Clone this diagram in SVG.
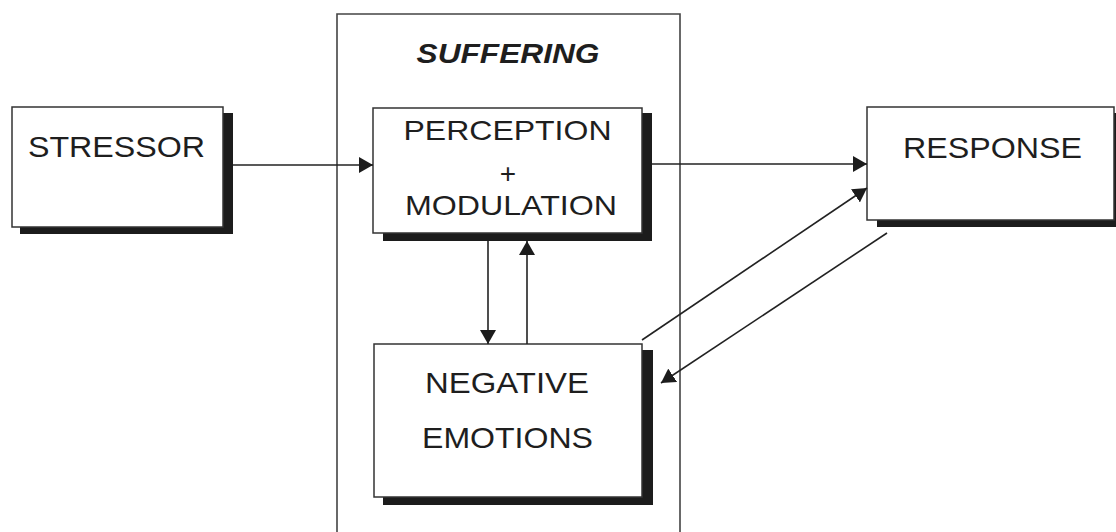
<svg xmlns="http://www.w3.org/2000/svg" width="1116" height="532" viewBox="0 0 1116 532">
<style>
.box{fill:#fff;stroke:#333;stroke-width:1.5}
.shadow{fill:#1c1c1c}
.lbl{font-family:"Liberation Sans",Arial,sans-serif;font-size:30px;fill:#1e1e1e;text-anchor:middle}
.sm{font-size:28px}
.title{font-family:"Liberation Sans",Arial,sans-serif;font-size:28px;font-weight:bold;font-style:italic;fill:#1e1e1e;text-anchor:middle}
.conn{stroke:#222;stroke-width:1.6;fill:none}
.frame{stroke:#444;stroke-width:1.6;fill:none}
</style>
<defs>
<marker id="arr" markerUnits="userSpaceOnUse" markerWidth="15" markerHeight="16" refX="14" refY="8" orient="auto">
<path d="M0,0 L14,8 L0,16 z" fill="#1c1c1c"/>
</marker>
</defs>
<rect width="1116" height="532" fill="#fff"/>
<g id="suffering">
<path class="frame" d="M337,532 L337,14 L680,14 L680,532"/>
<text class="title" x="508" y="63" textLength="183" lengthAdjust="spacingAndGlyphs">SUFFERING</text>
</g>
<g id="stressor">
<rect class="shadow" x="20" y="113" width="213" height="121"/>
<rect class="box" x="12" y="107" width="211" height="120"/>
<text class="lbl" x="116.5" y="157" textLength="177" lengthAdjust="spacingAndGlyphs">STRESSOR</text>
</g>
<g id="perception">
<rect class="shadow" x="383" y="113" width="269" height="128"/>
<rect class="box" x="373" y="108" width="269" height="125"/>
<text class="lbl sm" x="507.5" y="140" textLength="208" lengthAdjust="spacingAndGlyphs">PERCEPTION</text>
<text class="lbl sm" x="508" y="183">+</text>
<text class="lbl sm" x="511" y="215" textLength="212" lengthAdjust="spacingAndGlyphs">MODULATION</text>
</g>
<g id="negative">
<rect class="shadow" x="383" y="350" width="270" height="155"/>
<rect class="box" x="374" y="344" width="268" height="153"/>
<text class="lbl" x="507" y="393" textLength="164" lengthAdjust="spacingAndGlyphs">NEGATIVE</text>
<text class="lbl" x="507.5" y="448" textLength="171" lengthAdjust="spacingAndGlyphs">EMOTIONS</text>
</g>
<g id="response">
<rect class="shadow" x="877" y="113" width="245" height="114"/>
<rect class="box" x="867" y="107" width="247" height="113"/>
<text class="lbl" x="992.5" y="158" textLength="179" lengthAdjust="spacingAndGlyphs">RESPONSE</text>
</g>
<g id="connectors">
<line class="conn" x1="233" y1="165" x2="373" y2="165" marker-end="url(#arr)"/>
<line class="conn" x1="652" y1="164" x2="867" y2="164" marker-end="url(#arr)"/>
<line class="conn" x1="488" y1="241" x2="488" y2="344" marker-end="url(#arr)"/>
<line class="conn" x1="527" y1="344" x2="527" y2="241" marker-end="url(#arr)"/>
<line class="conn" x1="642" y1="340" x2="867" y2="188" marker-end="url(#arr)"/>
<line class="conn" x1="887" y1="233" x2="661" y2="383" marker-end="url(#arr)"/>
</g>
</svg>
